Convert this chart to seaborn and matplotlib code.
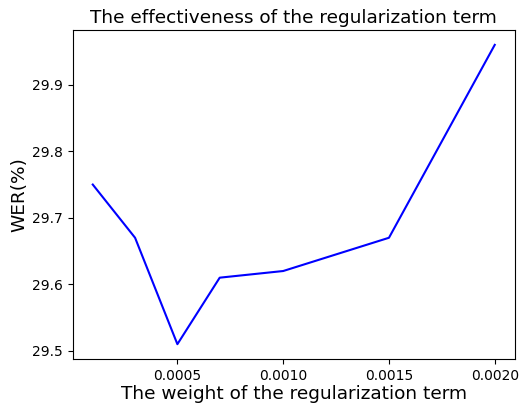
import matplotlib
matplotlib.use("Agg")
import matplotlib.pyplot as plt
import seaborn as sns
import pandas as pd

weights = [0.0001, 0.0003, 0.0005, 0.0007, 0.0010, 0.0015, 0.0020]
wer = [29.75, 29.67, 29.51, 29.61, 29.62, 29.67, 29.96]

df = pd.DataFrame({"weight": weights, "wer": wer})

fig = plt.figure(figsize=(5.19, 4.04), dpi=100)
ax = fig.add_subplot(111)
fig.subplots_adjust(left=0.140, right=0.992, top=0.926, bottom=0.111)

sns.lineplot(data=df, x="weight", y="wer", color="blue", ax=ax, linewidth=1.5)

ax.set_title("The effectiveness of the regularization term", fontsize=13.3, pad=5)
ax.set_xlabel("The weight of the regularization term", fontsize=13.3, labelpad=1.5)
ax.set_ylabel("WER(%)", fontsize=13.3, labelpad=3)
ax.set_xticks([0.0005, 0.0010, 0.0015, 0.0020])
ax.set_xticklabels(["0.0005", "0.0010", "0.0015", "0.0020"])
ax.set_yticks([29.5, 29.6, 29.7, 29.8, 29.9])
ax.set_yticklabels(["29.5", "29.6", "29.7", "29.8", "29.9"])
ax.tick_params(labelsize=10)

fig.savefig("out.png", dpi=100)
